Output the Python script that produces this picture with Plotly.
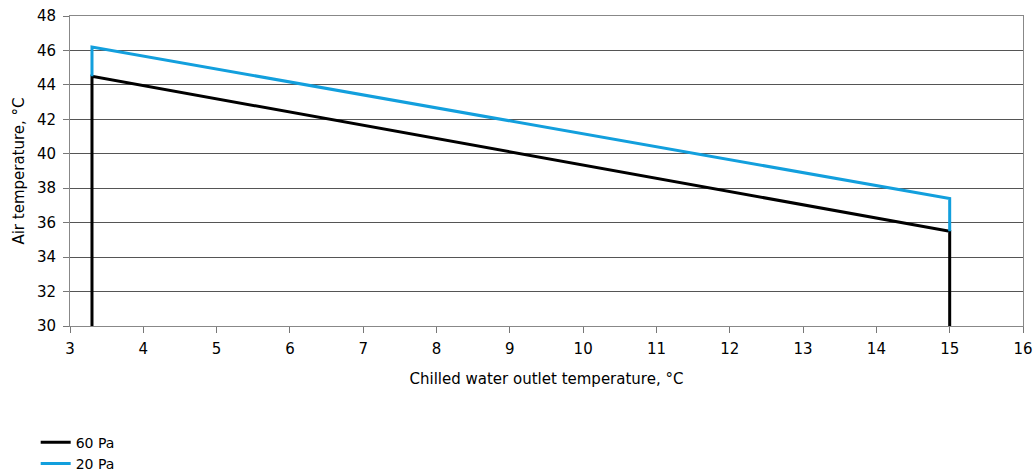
import plotly.graph_objects as go

x_60 = [3.3, 3.3, 15, 15]
y_60 = [30, 44.5, 35.5, 30]
x_20 = [3.3, 3.3, 15, 15]
y_20 = [44.5, 46.2, 37.4, 35.5]
x_ticks = list(range(3, 17))
y_ticks = list(range(30, 49, 2))

fig = go.Figure()
fig.add_trace(go.Scatter(x=x_60, y=y_60, mode="lines", name="60 Pa",
                         line=dict(color="#000000", width=3)))
fig.add_trace(go.Scatter(x=x_20, y=y_20, mode="lines", name="20 Pa",
                         line=dict(color="#129fdd", width=3)))

FAM = "DejaVu Sans, Liberation Sans, Arial, sans-serif"
font = dict(family=FAM, size=15, color="#000")
fig.update_layout(
    width=1033, height=473,
    margin=dict(l=70, r=10, t=16, b=147, autoexpand=False),
    paper_bgcolor="white", plot_bgcolor="white",
    font=font,
    showlegend=True,
    legend=dict(x=-0.036, y=-0.325, xanchor="left", yanchor="top",
                orientation="v", traceorder="normal",
                font=dict(family=FAM, size=14), tracegroupgap=0,
                bgcolor="rgba(0,0,0,0)"),
    xaxis=dict(range=[3, 16], tickvals=x_ticks, showgrid=False,
               ticks="outside", ticklen=6, tickcolor="#777",
               showline=True, linecolor="#888", linewidth=1, mirror=True,
               zeroline=False, tickfont=dict(family=FAM, size=15),
               ticklabelstandoff=3,
               title=dict(text="Chilled water outlet temperature, °C",
                          font=dict(family=FAM, size=15), standoff=16)),
    yaxis=dict(range=[30, 48], tickvals=y_ticks, showgrid=True,
               gridcolor="#555", gridwidth=1,
               ticks="outside", ticklen=6, tickcolor="#777",
               showline=True, linecolor="#888", linewidth=1, mirror=True,
               zeroline=False, tickfont=dict(family=FAM, size=15),
               ticklabelstandoff=4,
               title=dict(text="Air temperature, °C",
                          font=dict(family=FAM, size=15), standoff=8)),
)

fig.write_html("out.html")
